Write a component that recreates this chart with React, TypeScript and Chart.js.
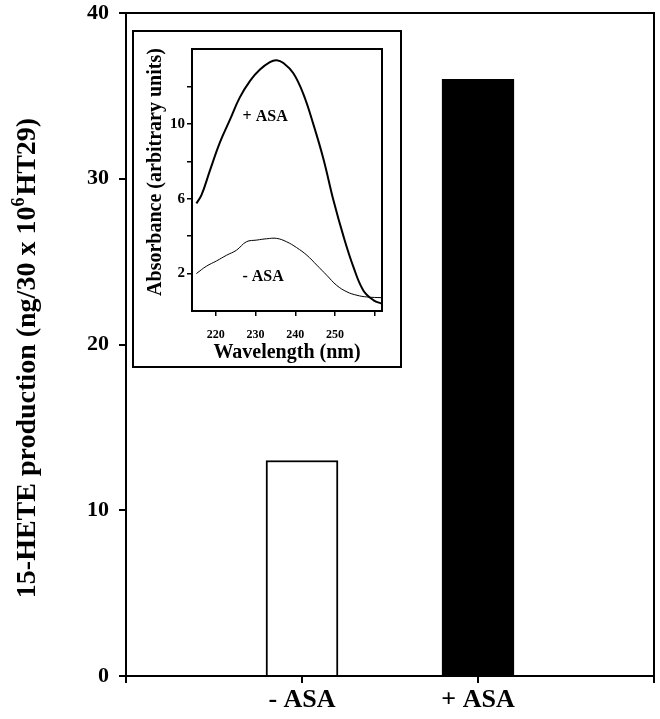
import React, { useEffect, useRef } from 'react';
import { Chart, registerables } from 'chart.js';

Chart.register(...registerables);

const FONT = "'Liberation Serif', 'Times New Roman', Times, serif";

// Main bar chart data
const categories = ['', '- ASA', '+ ASA', ''];
const hete = [null, 13, 36, null];
const barFill = ['#ffffff', '#ffffff', '#000000', '#ffffff'];
const mainYTicks = [0, 10, 20, 30, 40];
const mainYTitleA = '15-HETE production (ng/30 x 10';
const mainYTitleSup = '6';
const mainYTitleB = 'HT29)';

// Inset spectra data
const plusWl = [215.1, 216.4, 218.5, 221.0, 223.5, 226.0, 228.6, 231.1, 233.6, 235.3, 237.0, 239.5, 242.0, 244.5, 247.1, 249.6, 252.1, 254.6, 257.1, 259.7, 261.8];
const plusAbs = [5.75, 6.2, 7.5, 9.0, 10.2, 11.4, 12.3, 12.9, 13.3, 13.4, 13.25, 12.7, 11.6, 10.0, 8.1, 5.9, 4.0, 2.36, 1.1, 0.57, 0.39];
const minusWl = [215.1, 217.6, 220.2, 222.7, 225.2, 227.7, 230.3, 232.8, 235.3, 237.8, 240.3, 242.9, 245.4, 247.9, 250.4, 253.0, 255.5, 258.0, 261.8];
const minusAbs = [2.0, 2.39, 2.68, 2.98, 3.25, 3.7, 3.79, 3.86, 3.88, 3.7, 3.39, 2.98, 2.45, 1.91, 1.37, 1.02, 0.84, 0.75, 0.71];
const insetXTicks = [220, 230, 240, 250, 260];
const insetXLabels = ['220', '230', '240', '250', ''];
const insetYTicks = [2, 4, 6, 8, 10, 12];
const insetYLabels = ['2', '', '6', '', '10', ''];
const insetXTitle = 'Wavelength (nm)';
const insetYTitle = 'Absorbance (arbitrary units)';
const curveLabels = [
  { text: '+ ASA', wl: 232.4, abs: 10.4 },
  { text: '- ASA', wl: 231.9, abs: 1.8 },
];

function framePlugin(width: number) {
  return {
    id: 'frame',
    afterDraw(chart: any) {
      const { ctx, chartArea } = chart;
      ctx.save();
      ctx.strokeStyle = '#000';
      ctx.lineWidth = width;
      ctx.strokeRect(chartArea.left, chartArea.top, chartArea.right - chartArea.left, chartArea.bottom - chartArea.top);
      ctx.restore();
    },
  };
}

const mainTitlePlugin = {
  id: 'mainYTitle',
  afterDraw(chart: any) {
    const ctx = chart.ctx;
    const big = `bold 28px ${FONT}`;
    const small = `bold 18px ${FONT}`;
    ctx.save();
    ctx.font = big;
    const wA = ctx.measureText(mainYTitleA).width;
    const wB = ctx.measureText(mainYTitleB).width;
    ctx.font = small;
    const wS = ctx.measureText(mainYTitleSup).width;
    const gap = 2;
    const total = wA + wS + gap + wB;
    const cy = 358;
    const cx = 26;
    ctx.translate(cx, cy);
    ctx.rotate(-Math.PI / 2);
    ctx.fillStyle = '#000';
    ctx.textBaseline = 'alphabetic';
    ctx.textAlign = 'left';
    let x = -total / 2;
    const base = 9;
    ctx.font = big;
    ctx.fillText(mainYTitleA, x, base);
    x += wA;
    ctx.font = small;
    ctx.fillText(mainYTitleSup, x, base - 11);
    x += wS + gap;
    ctx.font = big;
    ctx.fillText(mainYTitleB, x, base);
    ctx.restore();
  },
};

const insetTextPlugin = {
  id: 'insetText',
  afterDraw(chart: any) {
    const { ctx, chartArea, scales } = chart;
    ctx.save();
    ctx.fillStyle = '#000';
    ctx.font = `bold 20px ${FONT}`;
    ctx.textAlign = 'center';
    ctx.textBaseline = 'alphabetic';
    ctx.fillText(insetXTitle, (chartArea.left + chartArea.right) / 2, chartArea.bottom + 47);
    ctx.save();
    ctx.translate(chartArea.left - 31, chartArea.top + 123);
    ctx.rotate(-Math.PI / 2);
    ctx.fillText(insetYTitle, 0, 0);
    ctx.restore();
    ctx.font = `bold 16px ${FONT}`;
    ctx.textBaseline = 'middle';
    curveLabels.forEach((l) => {
      ctx.fillText(l.text, scales.x.getPixelForValue(l.wl), scales.y.getPixelForValue(l.abs));
    });
    ctx.restore();
  },
};

export default function App() {
  const mainRef = useRef<HTMLCanvasElement | null>(null);
  const insetRef = useRef<HTMLCanvasElement | null>(null);

  useEffect(() => {
    const main = new Chart(mainRef.current as HTMLCanvasElement, {
      type: 'bar',
      data: {
        labels: categories,
        datasets: [
          {
            data: hete as any,
            backgroundColor: barFill,
            borderColor: '#000',
            borderWidth: 2,
            barThickness: 72,
          },
        ],
      },
      options: {
        animation: false,
        responsive: false,
        maintainAspectRatio: false,
        layout: { padding: { left: 0, right: 6, top: 13, bottom: 0 } },
        plugins: { legend: { display: false }, tooltip: { enabled: false } },
        scales: {
          x: {
            type: 'category',
            offset: false,
            grid: { offset: false, drawOnChartArea: false, drawTicks: true, tickLength: 7, color: '#000', lineWidth: 2 },
            border: { display: true, color: '#000', width: 2 },
            ticks: { color: '#000', font: { family: FONT, size: 26, weight: 'bold' }, padding: 2, autoSkip: false, maxRotation: 0 },
            afterFit: (s: any) => { s.height = 43; s.paddingLeft = 0; s.paddingRight = 0; },
          },
          y: {
            min: 0,
            max: 40,
            afterBuildTicks: (s: any) => { s.ticks = mainYTicks.map((v) => ({ value: v })); },
            grid: { drawOnChartArea: false, drawTicks: true, tickLength: 7, color: '#000', lineWidth: 2 },
            border: { display: true, color: '#000', width: 2 },
            ticks: { color: '#000', font: { family: FONT, size: 22, weight: 'bold' }, padding: 10 },
            afterFit: (s: any) => { s.width = 126; s.paddingTop = 0; s.paddingBottom = 0; },
          },
        },
      },
      plugins: [framePlugin(2), mainTitlePlugin],
    } as any);

    const inset = new Chart(insetRef.current as HTMLCanvasElement, {
      type: 'line',
      data: {
        datasets: [
          {
            data: plusWl.map((w, i) => ({ x: w, y: plusAbs[i] })),
            borderColor: '#000',
            borderWidth: 2,
            pointRadius: 0,
            tension: 0.4,
            fill: false,
          },
          {
            data: minusWl.map((w, i) => ({ x: w, y: minusAbs[i] })),
            borderColor: '#000',
            borderWidth: 1,
            pointRadius: 0,
            tension: 0.4,
            fill: false,
          },
        ],
      },
      options: {
        animation: false,
        responsive: false,
        maintainAspectRatio: false,
        layout: { padding: { left: 0, right: 18, top: 17, bottom: 0 } },
        plugins: { legend: { display: false }, tooltip: { enabled: false } },
        scales: {
          x: {
            type: 'linear',
            min: 214,
            max: 261.8,
            afterBuildTicks: (s: any) => { s.ticks = insetXTicks.map((v) => ({ value: v })); },
            grid: { drawOnChartArea: false, drawTicks: true, tickLength: 5, color: '#000', lineWidth: 1.5 },
            border: { display: true, color: '#000', width: 2 },
            ticks: {
              color: '#000',
              font: { family: FONT, size: 12, weight: 'bold' },
              padding: 12,
              maxRotation: 0,
              callback: (v: any) => insetXLabels[insetXTicks.indexOf(Number(v))] ?? '',
            },
            afterFit: (s: any) => { s.height = 55; s.paddingLeft = 0; s.paddingRight = 0; },
          },
          y: {
            type: 'linear',
            min: 0,
            max: 14,
            afterBuildTicks: (s: any) => { s.ticks = insetYTicks.map((v) => ({ value: v })); },
            grid: { drawOnChartArea: false, drawTicks: true, tickLength: 5, color: '#000', lineWidth: 1.5 },
            border: { display: true, color: '#000', width: 2 },
            ticks: {
              color: '#000',
              font: { family: FONT, size: 15, weight: 'bold' },
              padding: 2,
              callback: (v: any) => insetYLabels[insetYTicks.indexOf(Number(v))] ?? '',
            },
            afterFit: (s: any) => { s.width = 58; s.paddingTop = 0; s.paddingBottom = 0; },
          },
        },
      },
      plugins: [framePlugin(2), insetTextPlugin],
    } as any);

    return () => {
      main.destroy();
      inset.destroy();
    };
  }, []);

  return (
    <div style={{ position: 'absolute', left: 0, top: 0, width: 660, height: 719, background: '#fff' }}>
      <canvas ref={mainRef} width={660} height={719} style={{ display: 'block', width: 660, height: 719 }} />
      <div
        style={{
          position: 'absolute',
          left: 132,
          top: 30,
          width: 266,
          height: 334,
          border: '2px solid #000',
          background: '#fff',
        }}
      >
        <canvas ref={insetRef} width={266} height={334} style={{ display: 'block', width: 266, height: 334 }} />
      </div>
    </div>
  );
}
